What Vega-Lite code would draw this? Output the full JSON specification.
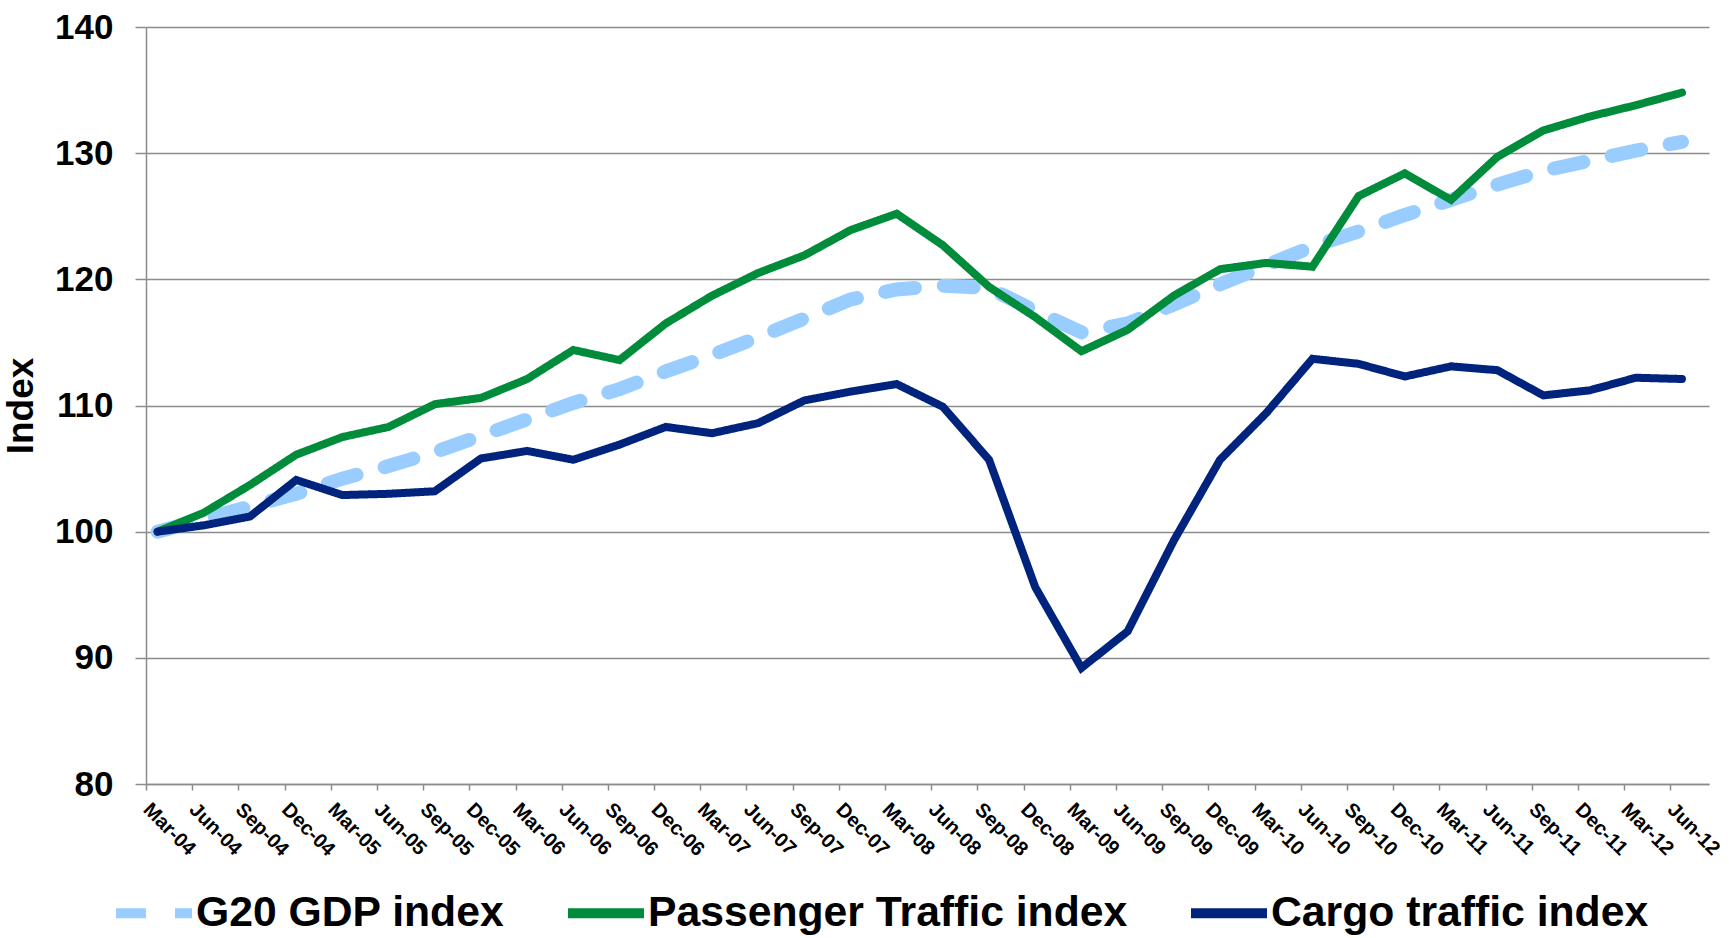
{
  "$schema": "https://vega.github.io/schema/vega-lite/v6.json",
  "width": 1563,
  "height": 757,
  "autosize": {"type": "none"},
  "padding": {"left": 146, "top": 27, "right": 20, "bottom": 154},
  "background": "white",
  "config": {"font": "Liberation Sans", "view": {"stroke": null}},
  "data": {
    "values": [
      {"q": "Mar-04", "series": "G20 GDP index", "v": 100.0},
      {"q": "Jun-04", "series": "G20 GDP index", "v": 101.0},
      {"q": "Sep-04", "series": "G20 GDP index", "v": 102.0},
      {"q": "Dec-04", "series": "G20 GDP index", "v": 103.0},
      {"q": "Mar-05", "series": "G20 GDP index", "v": 104.2},
      {"q": "Jun-05", "series": "G20 GDP index", "v": 105.2},
      {"q": "Sep-05", "series": "G20 GDP index", "v": 106.3},
      {"q": "Dec-05", "series": "G20 GDP index", "v": 107.6},
      {"q": "Mar-06", "series": "G20 GDP index", "v": 108.9},
      {"q": "Jun-06", "series": "G20 GDP index", "v": 110.2},
      {"q": "Sep-06", "series": "G20 GDP index", "v": 111.3},
      {"q": "Dec-06", "series": "G20 GDP index", "v": 112.7},
      {"q": "Mar-07", "series": "G20 GDP index", "v": 114.0},
      {"q": "Jun-07", "series": "G20 GDP index", "v": 115.4},
      {"q": "Sep-07", "series": "G20 GDP index", "v": 116.9},
      {"q": "Dec-07", "series": "G20 GDP index", "v": 118.4},
      {"q": "Mar-08", "series": "G20 GDP index", "v": 119.2},
      {"q": "Jun-08", "series": "G20 GDP index", "v": 119.5},
      {"q": "Sep-08", "series": "G20 GDP index", "v": 119.3},
      {"q": "Dec-08", "series": "G20 GDP index", "v": 117.5},
      {"q": "Mar-09", "series": "G20 GDP index", "v": 115.8},
      {"q": "Jun-09", "series": "G20 GDP index", "v": 116.5},
      {"q": "Sep-09", "series": "G20 GDP index", "v": 118.0},
      {"q": "Dec-09", "series": "G20 GDP index", "v": 119.6},
      {"q": "Mar-10", "series": "G20 GDP index", "v": 121.1},
      {"q": "Jun-10", "series": "G20 GDP index", "v": 122.6},
      {"q": "Sep-10", "series": "G20 GDP index", "v": 123.8},
      {"q": "Dec-10", "series": "G20 GDP index", "v": 125.1},
      {"q": "Mar-11", "series": "G20 GDP index", "v": 126.3},
      {"q": "Jun-11", "series": "G20 GDP index", "v": 127.5},
      {"q": "Sep-11", "series": "G20 GDP index", "v": 128.6},
      {"q": "Dec-11", "series": "G20 GDP index", "v": 129.4},
      {"q": "Mar-12", "series": "G20 GDP index", "v": 130.2},
      {"q": "Jun-12", "series": "G20 GDP index", "v": 130.9},
      {"q": "Mar-04", "series": "Passenger Traffic index", "v": 100.0},
      {"q": "Jun-04", "series": "Passenger Traffic index", "v": 101.5},
      {"q": "Sep-04", "series": "Passenger Traffic index", "v": 103.7},
      {"q": "Dec-04", "series": "Passenger Traffic index", "v": 106.1},
      {"q": "Mar-05", "series": "Passenger Traffic index", "v": 107.5},
      {"q": "Jun-05", "series": "Passenger Traffic index", "v": 108.3},
      {"q": "Sep-05", "series": "Passenger Traffic index", "v": 110.1},
      {"q": "Dec-05", "series": "Passenger Traffic index", "v": 110.6},
      {"q": "Mar-06", "series": "Passenger Traffic index", "v": 112.1},
      {"q": "Jun-06", "series": "Passenger Traffic index", "v": 114.4},
      {"q": "Sep-06", "series": "Passenger Traffic index", "v": 113.6},
      {"q": "Dec-06", "series": "Passenger Traffic index", "v": 116.5},
      {"q": "Mar-07", "series": "Passenger Traffic index", "v": 118.7},
      {"q": "Jun-07", "series": "Passenger Traffic index", "v": 120.5},
      {"q": "Sep-07", "series": "Passenger Traffic index", "v": 121.9},
      {"q": "Dec-07", "series": "Passenger Traffic index", "v": 123.9},
      {"q": "Mar-08", "series": "Passenger Traffic index", "v": 125.2},
      {"q": "Jun-08", "series": "Passenger Traffic index", "v": 122.7},
      {"q": "Sep-08", "series": "Passenger Traffic index", "v": 119.4},
      {"q": "Dec-08", "series": "Passenger Traffic index", "v": 117.0},
      {"q": "Mar-09", "series": "Passenger Traffic index", "v": 114.3},
      {"q": "Jun-09", "series": "Passenger Traffic index", "v": 116.0},
      {"q": "Sep-09", "series": "Passenger Traffic index", "v": 118.7},
      {"q": "Dec-09", "series": "Passenger Traffic index", "v": 120.8},
      {"q": "Mar-10", "series": "Passenger Traffic index", "v": 121.3},
      {"q": "Jun-10", "series": "Passenger Traffic index", "v": 121.0},
      {"q": "Sep-10", "series": "Passenger Traffic index", "v": 126.6},
      {"q": "Dec-10", "series": "Passenger Traffic index", "v": 128.4},
      {"q": "Mar-11", "series": "Passenger Traffic index", "v": 126.3},
      {"q": "Jun-11", "series": "Passenger Traffic index", "v": 129.7},
      {"q": "Sep-11", "series": "Passenger Traffic index", "v": 131.8},
      {"q": "Dec-11", "series": "Passenger Traffic index", "v": 132.9},
      {"q": "Mar-12", "series": "Passenger Traffic index", "v": 133.8},
      {"q": "Jun-12", "series": "Passenger Traffic index", "v": 134.8},
      {"q": "Mar-04", "series": "Cargo traffic index", "v": 100.0},
      {"q": "Jun-04", "series": "Cargo traffic index", "v": 100.5},
      {"q": "Sep-04", "series": "Cargo traffic index", "v": 101.2},
      {"q": "Dec-04", "series": "Cargo traffic index", "v": 104.1},
      {"q": "Mar-05", "series": "Cargo traffic index", "v": 102.9},
      {"q": "Jun-05", "series": "Cargo traffic index", "v": 103.0},
      {"q": "Sep-05", "series": "Cargo traffic index", "v": 103.2},
      {"q": "Dec-05", "series": "Cargo traffic index", "v": 105.8},
      {"q": "Mar-06", "series": "Cargo traffic index", "v": 106.4},
      {"q": "Jun-06", "series": "Cargo traffic index", "v": 105.7},
      {"q": "Sep-06", "series": "Cargo traffic index", "v": 106.9},
      {"q": "Dec-06", "series": "Cargo traffic index", "v": 108.3},
      {"q": "Mar-07", "series": "Cargo traffic index", "v": 107.8},
      {"q": "Jun-07", "series": "Cargo traffic index", "v": 108.6},
      {"q": "Sep-07", "series": "Cargo traffic index", "v": 110.4},
      {"q": "Dec-07", "series": "Cargo traffic index", "v": 111.1},
      {"q": "Mar-08", "series": "Cargo traffic index", "v": 111.7},
      {"q": "Jun-08", "series": "Cargo traffic index", "v": 109.9},
      {"q": "Sep-08", "series": "Cargo traffic index", "v": 105.7},
      {"q": "Dec-08", "series": "Cargo traffic index", "v": 95.6},
      {"q": "Mar-09", "series": "Cargo traffic index", "v": 89.2},
      {"q": "Jun-09", "series": "Cargo traffic index", "v": 92.1},
      {"q": "Sep-09", "series": "Cargo traffic index", "v": 99.3},
      {"q": "Dec-09", "series": "Cargo traffic index", "v": 105.7},
      {"q": "Mar-10", "series": "Cargo traffic index", "v": 109.4},
      {"q": "Jun-10", "series": "Cargo traffic index", "v": 113.7},
      {"q": "Sep-10", "series": "Cargo traffic index", "v": 113.3},
      {"q": "Dec-10", "series": "Cargo traffic index", "v": 112.3},
      {"q": "Mar-11", "series": "Cargo traffic index", "v": 113.1},
      {"q": "Jun-11", "series": "Cargo traffic index", "v": 112.8},
      {"q": "Sep-11", "series": "Cargo traffic index", "v": 110.8},
      {"q": "Dec-11", "series": "Cargo traffic index", "v": 111.2},
      {"q": "Mar-12", "series": "Cargo traffic index", "v": 112.2},
      {"q": "Jun-12", "series": "Cargo traffic index", "v": 112.1}
    ]
  },
  "mark": {"type": "line", "strokeCap": "round", "strokeJoin": "miter"},
  "encoding": {
    "x": {
      "field": "q",
      "type": "ordinal",
      "sort": null,
      "scale": {"type": "point", "padding": 0.418, "align": 0.3},
      "axis": {
        "title": null,
        "grid": false,
        "domainColor": "#8C8C8C",
        "domainWidth": 1.5,
        "tickColor": "#8C8C8C",
        "tickWidth": 1.5,
        "tickSize": 6,
        "tickOffset": -11.6,
        "labelAngle": 45,
        "labelAlign": "left",
        "labelBaseline": "top",
        "labelFontSize": 20,
        "labelFontWeight": "bold",
        "labelColor": "black",
        "labelPadding": 9,
        "labelOffset": 7,
        "labelOverlap": false,
        "labelBound": false
      }
    },
    "y": {
      "field": "v",
      "type": "quantitative",
      "scale": {"domain": [80, 140], "nice": false, "zero": false},
      "axis": {
        "title": "Index",
        "titleFontSize": 37,
        "titleFontWeight": "bold",
        "titleColor": "black",
        "titlePadding": 14,
        "values": [80, 90, 100, 110, 120, 130, 140],
        "labelFontSize": 35,
        "labelFontWeight": "bold",
        "labelColor": "black",
        "labelPadding": 22,
        "tickSize": 11,
        "tickColor": "#8C8C8C",
        "tickWidth": 1.5,
        "domainColor": "#8C8C8C",
        "domainWidth": 1.5,
        "grid": true,
        "gridColor": "#8C8C8C",
        "gridWidth": 1.5
      }
    },
    "color": {
      "field": "series",
      "type": "nominal",
      "scale": {
        "domain": ["G20 GDP index", "Passenger Traffic index", "Cargo traffic index"],
        "range": ["#99CCFF", "#008C3A", "#00247D"]
      },
      "legend": {
        "orient": "none",
        "legendX": -35,
        "legendY": 843,
        "direction": "horizontal",
        "title": null,
        "padding": 0,
        "symbolType": "stroke",
        "symbolSize": 5776,
        "symbolStrokeWidth": 10,
        "labelFontSize": 42.7,
        "labelFontWeight": "bold",
        "labelColor": "black",
        "labelOffset": -1,
        "labelLimit": 0,
        "columnPadding": 43
      }
    },
    "strokeDash": {
      "field": "series",
      "type": "nominal",
      "scale": {
        "domain": ["G20 GDP index", "Passenger Traffic index", "Cargo traffic index"],
        "range": [[30, 29], [1, 0], [1, 0]]
      }
    },
    "strokeWidth": {
      "condition": {"test": "datum.series === 'G20 GDP index'", "value": 14},
      "value": 8
    }
  }
}
